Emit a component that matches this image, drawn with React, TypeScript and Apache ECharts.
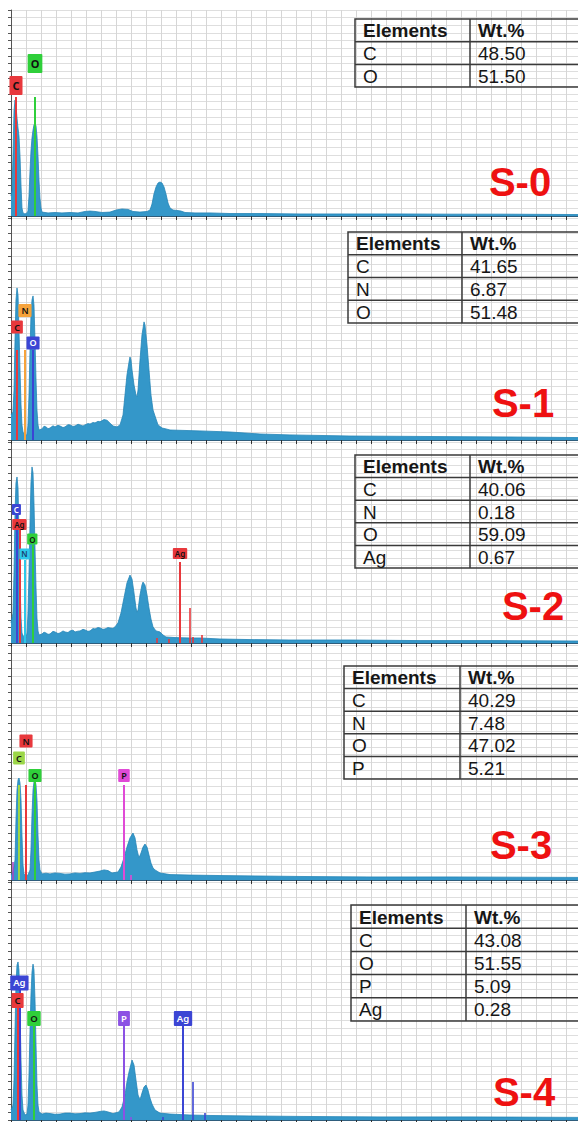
import React, { useEffect, useRef } from "react";
import * as echarts from "echarts";

// ---------- axis range (keV) ----------
const X_MAX = 9.45;
const X_STEP = 0.25;

// ---------- sample names ----------
const sampleNames = ["S-0", "S-1", "S-2", "S-3", "S-4"];

// ---------- spectra: [energy keV, counts % of full scale] ----------
const s0Spectrum: [number, number][] = [
  [0, 9.7], [0.017, 12.6], [0.033, 29.1], [0.05, 51], [0.067, 56.3], [0.083, 53.4], [0.1, 47.6], [0.117, 42.7],
  [0.133, 38.8], [0.15, 29.1], [0.167, 14.6], [0.183, 3.9], [0.2, 1.5], [0.233, 1], [0.267, 1.5], [0.283, 2.4],
  [0.3, 9.7], [0.317, 21.8], [0.333, 31.6], [0.35, 37.9], [0.367, 41.7], [0.383, 44.2], [0.4, 45.1], [0.417, 43.7],
  [0.433, 38.8], [0.45, 29.1], [0.467, 17], [0.483, 8.7], [0.5, 3.9], [0.517, 1.9], [0.617, 1.5], [0.733, 1.7],
  [0.85, 1.5], [0.983, 1.7], [1.117, 1.5], [1.233, 2.2], [1.317, 2.4], [1.4, 2.2], [1.517, 1.7], [1.65, 1.9],
  [1.75, 2.9], [1.85, 3.4], [1.95, 3.2], [2.033, 2.2], [2.15, 1.9], [2.267, 2.2], [2.317, 2.9], [2.35, 5.8],
  [2.383, 10.7], [2.417, 14.1], [2.45, 16], [2.483, 16.5], [2.517, 16], [2.55, 14.1], [2.583, 10.7], [2.617, 6.3],
  [2.65, 3.9], [2.7, 2.9], [2.767, 2.7], [2.833, 2.4], [2.9, 1.7], [3.067, 1.5], [3.317, 1.5], [3.65, 1.2],
  [4.15, 1.2], [4.817, 1], [5.65, 1], [6.483, 1], [7.317, 0.9], [8.15, 0.9], [9.45, 0.7],
];

const s1Spectrum: [number, number][] = [
  [0, 11.3], [0.033, 12.6], [0.05, 22.5], [0.067, 45], [0.083, 63.1], [0.1, 68.5], [0.117, 65.3], [0.133, 49.5],
  [0.15, 31.5], [0.167, 15.8], [0.183, 6.8], [0.2, 3.6], [0.217, 2.3], [0.25, 1.8], [0.267, 2.7], [0.283, 6.8],
  [0.3, 20.3], [0.317, 40.5], [0.333, 56.3], [0.35, 63.1], [0.367, 64.9], [0.383, 60.8], [0.4, 45], [0.417, 27],
  [0.433, 13.5], [0.45, 6.8], [0.467, 4.5], [0.517, 5], [0.55, 6.2], [0.583, 5.9], [0.617, 5.1], [0.65, 5.4],
  [0.7, 6.4], [0.733, 5.9], [0.783, 6.6], [0.817, 6.3], [0.867, 5.6], [0.9, 5.9], [0.95, 6.9], [0.983, 6.8],
  [1.033, 6.1], [1.067, 6.3], [1.117, 7.1], [1.15, 6.8], [1.2, 6.3], [1.233, 6.8], [1.283, 7.4], [1.317, 7.2],
  [1.367, 7.9], [1.4, 7.7], [1.45, 8.4], [1.483, 8.2], [1.55, 9.2], [1.6, 8.9], [1.65, 7.6], [1.7, 6.3],
  [1.767, 5.9], [1.817, 6.8], [1.867, 11.3], [1.9, 20.3], [1.933, 29.3], [1.967, 35.1], [1.983, 37.4], [2.0, 36],
  [2.017, 31.5], [2.05, 24.8], [2.083, 20.3], [2.1, 19.4], [2.117, 22.5], [2.15, 36], [2.183, 47.3], [2.217, 53.2],
  [2.233, 51.8], [2.267, 42.8], [2.3, 31.5], [2.333, 20.3], [2.367, 13.5], [2.4, 10.8], [2.45, 6.8], [2.517, 5.4],
  [2.583, 5], [2.65, 4.5], [2.9, 4.3], [3.15, 4.1], [3.65, 3.6], [4.15, 2.7], [4.65, 2.3], [5.65, 1.8],
  [6.817, 1.6], [8.15, 1.4], [9.45, 1.1],
];

const s2Spectrum: [number, number][] = [
  [0, 10], [0.033, 14.9], [0.05, 34.8], [0.067, 64.7], [0.083, 79.6], [0.1, 82.6], [0.117, 77.1], [0.133, 54.7],
  [0.15, 29.9], [0.167, 12.4], [0.183, 5], [0.217, 2.5], [0.25, 2.5], [0.267, 5], [0.283, 14.9], [0.3, 34.8],
  [0.317, 59.7], [0.333, 79.6], [0.35, 87.6], [0.367, 84.6], [0.383, 69.7], [0.4, 47.3], [0.417, 27.4],
  [0.433, 12.4], [0.45, 6], [0.467, 4], [0.517, 4.5], [0.55, 5.4], [0.583, 5], [0.617, 4.3], [0.65, 4.5],
  [0.7, 5.8], [0.733, 5.5], [0.783, 4.7], [0.817, 5], [0.867, 6], [0.9, 5.5], [0.95, 5.2], [0.983, 6],
  [1.033, 6.4], [1.067, 5.5], [1.117, 5.9], [1.15, 6], [1.2, 6.8], [1.233, 6.5], [1.283, 5.8], [1.317, 6],
  [1.367, 7.2], [1.4, 7], [1.45, 7.7], [1.483, 7.5], [1.533, 6.8], [1.567, 7], [1.617, 7.7], [1.65, 7.5],
  [1.7, 7.3], [1.733, 8], [1.783, 10], [1.833, 14.9], [1.883, 22.4], [1.933, 29.9], [1.983, 33.8], [2.017, 31.8],
  [2.05, 24.9], [2.083, 17.4], [2.1, 15.4], [2.117, 16.4], [2.15, 23.9], [2.183, 28.9], [2.2, 30.3], [2.233, 28.9],
  [2.267, 23.9], [2.3, 17.4], [2.333, 11.9], [2.367, 8], [2.417, 6], [2.483, 5.5], [2.533, 4], [2.583, 3],
  [2.733, 2.7], [2.983, 2.5], [3.15, 2.5], [3.483, 2], [3.983, 1.7], [4.65, 1.5], [5.65, 1.5], [6.817, 1.2],
  [8.15, 1.2], [9.45, 1],
];

const s3Spectrum: [number, number][] = [
  [0, 2.1], [0.033, 3.4], [0.067, 8.5], [0.083, 25.5], [0.1, 38.3], [0.117, 42.6], [0.133, 43.4], [0.15, 41.3],
  [0.167, 34], [0.183, 19.1], [0.2, 6.4], [0.217, 2.6], [0.25, 1.7], [0.283, 2.1], [0.317, 4.3], [0.333, 12.8],
  [0.35, 27.7], [0.367, 38.3], [0.383, 41.7], [0.4, 42.6], [0.417, 40.4], [0.433, 34], [0.45, 19.1], [0.467, 8.5],
  [0.483, 4.3], [0.517, 2.6], [0.583, 2.9], [0.65, 2.6], [0.733, 3], [0.817, 2.8], [0.9, 2.5], [0.983, 2.6],
  [1.067, 3], [1.15, 2.8], [1.233, 3.1], [1.317, 3], [1.4, 3.4], [1.483, 3.8], [1.55, 4.3], [1.617, 4],
  [1.683, 3], [1.783, 3.4], [1.833, 5.5], [1.883, 9.4], [1.933, 14], [1.983, 17.9], [2.033, 20], [2.067, 17.9],
  [2.1, 12.8], [2.133, 9.4], [2.167, 11.5], [2.2, 14], [2.233, 15.3], [2.267, 14], [2.3, 10.6], [2.333, 7.2],
  [2.367, 5.1], [2.4, 4.3], [2.483, 3], [2.65, 2.3], [2.983, 2.1], [3.483, 1.9], [4.15, 1.7], [4.817, 1.5],
  [5.983, 1.3], [7.317, 1.3], [9.45, 1.1],
];

const s4Spectrum: [number, number][] = [
  [0, 4.2], [0.033, 6.3], [0.05, 16.8], [0.067, 37.8], [0.083, 56.7], [0.1, 65.1], [0.117, 66.4], [0.133, 63],
  [0.15, 46.2], [0.167, 25.2], [0.183, 10.5], [0.2, 4.2], [0.233, 2.1], [0.267, 2.5], [0.283, 6.3], [0.3, 18.9],
  [0.317, 37.8], [0.333, 52.5], [0.35, 62.2], [0.367, 65.5], [0.383, 63], [0.4, 50.4], [0.417, 31.5], [0.433, 14.7],
  [0.45, 6.3], [0.467, 3.4], [0.517, 2.5], [0.583, 2.9], [0.65, 2.7], [0.733, 2.4], [0.817, 2.5], [0.9, 2.9],
  [0.983, 2.9], [1.067, 2.6], [1.15, 2.7], [1.233, 3], [1.317, 2.9], [1.4, 3.2], [1.483, 3.6], [1.55, 3.8],
  [1.617, 3.4], [1.7, 2.7], [1.8, 3.4], [1.85, 5.5], [1.9, 10.5], [1.933, 16], [1.967, 20.2], [2.017, 25.2],
  [2.05, 23.1], [2.083, 16.8], [2.117, 10.5], [2.15, 8.4], [2.183, 11.3], [2.217, 13.9], [2.25, 14.7],
  [2.283, 12.6], [2.317, 9.2], [2.35, 6.7], [2.4, 4.2], [2.483, 2.9], [2.65, 2.5], [2.983, 2.1], [3.317, 1.9],
  [3.983, 1.7], [4.817, 1.5], [6.15, 1.3], [7.65, 1.3], [9.45, 1.1],
];

// ---------- element markers: energy, line top %, label centre %, colour ----------
const RED = "#e8383c";
const GREEN = "#2fcf3a";
const ORANGE = "#f6a33b";
const BLUE = "#3b45d4";
const CYAN = "#2cc8ea";
const LIME = "#9bd648";
const MAGENTA = "#e04ad6";
const PURPLE = "#8c52e4";
const VIOLET = "#a547c4";

type Marker = { el?: string; x: number; top: number; label?: number; color: string; text?: string };

const s0Markers: Marker[] = [
  { el: "C", x: 0.083, top: 57.8, label: 63.3, color: RED },
  { el: "O", x: 0.4, top: 57.8, label: 74, color: GREEN },
];
const s1Markers: Marker[] = [
  { el: "C", x: 0.1, top: 40.5, label: 50.9, color: RED },
  { el: "N", x: 0.233, top: 40.5, label: 58.3, color: ORANGE },
  { el: "O", x: 0.367, top: 40.5, label: 43.7, color: BLUE, text: "#ffffff" },
];
const s2Markers: Marker[] = [
  { el: "C", x: 0.09, top: 63.7, label: 66.4, color: BLUE, text: "#ffffff" },
  { el: "Ag", x: 0.14, top: 56.2, label: 59, color: RED },
  { el: "N", x: 0.225, top: 41.3, label: 44.3, color: CYAN, text: "#1b3d6e" },
  { el: "O", x: 0.355, top: 48.8, label: 51.7, color: GREEN },
  { el: "Ag", x: 2.817, top: 40.3, label: 44.5, color: RED },
  { x: 2.983, top: 17.4, color: RED },
  { x: 3.183, top: 4, color: RED },
  { x: 2.433, top: 2.5, color: RED },
  { x: 2.633, top: 2, color: RED },
  { x: 3.033, top: 3, color: RED },
];
const s3Markers: Marker[] = [
  { x: 0.033, top: 7.7, color: VIOLET },
  { el: "C", x: 0.133, top: 40.4, label: 51.9, color: LIME },
  { el: "N", x: 0.25, top: 40.4, label: 59.1, color: RED },
  { el: "O", x: 0.4, top: 41.7, label: 44.5, color: GREEN },
  { el: "P", x: 1.883, top: 40.4, label: 44.5, color: MAGENTA },
  { x: 2.0, top: 2.1, color: MAGENTA },
];
const s4Markers: Marker[] = [
  { el: "C", x: 0.11, top: 47.5, label: 50.2, color: RED },
  { el: "Ag", x: 0.14, top: 54.6, label: 57.6, color: BLUE, text: "#ffffff" },
  { el: "O", x: 0.383, top: 39.5, label: 42.6, color: GREEN },
  { el: "P", x: 1.883, top: 39.5, label: 42.6, color: PURPLE, text: "#ffffff" },
  { el: "Ag", x: 2.867, top: 39.5, label: 42.6, color: BLUE, text: "#ffffff" },
  { x: 3.033, top: 16, color: BLUE },
  { x: 3.233, top: 2.9, color: BLUE },
  { x: 2.0, top: 1.3, color: PURPLE },
  { x: 2.533, top: 1.3, color: BLUE },
];

// ---------- composition tables ----------
const s0Elements = ["C", "O"];
const s0Wt = ["48.50", "51.50"];
const s1Elements = ["C", "N", "O"];
const s1Wt = ["41.65", "6.87", "51.48"];
const s2Elements = ["C", "N", "O", "Ag"];
const s2Wt = ["40.06", "0.18", "59.09", "0.67"];
const s3Elements = ["C", "N", "O", "P"];
const s3Wt = ["40.29", "7.48", "47.02", "5.21"];
const s4Elements = ["C", "O", "P", "Ag"];
const s4Wt = ["43.08", "51.55", "5.09", "0.28"];

const spectra = [s0Spectrum, s1Spectrum, s2Spectrum, s3Spectrum, s4Spectrum];
const markers = [s0Markers, s1Markers, s2Markers, s3Markers, s4Markers];
const tableElements = [s0Elements, s1Elements, s2Elements, s3Elements, s4Elements];
const tableWt = [s0Wt, s1Wt, s2Wt, s3Wt, s4Wt];

// ---------- layout (pixels) ----------
const PANELS = [
  { top: 10, height: 206, rows: 27, font: 11, lh: 13, pad: [3, 3], bold: true },
  { top: 218, height: 222, rows: 29, font: 9, lh: 9, pad: [2, 3], bold: false },
  { top: 442, height: 201, rows: 26, font: 8, lh: 8, pad: [1.5, 2], bold: false },
  { top: 645, height: 235, rows: 30, font: 9, lh: 9, pad: [2, 3], bold: false },
  { top: 882, height: 238, rows: 31, font: 9.5, lh: 10, pad: [2.5, 3], bold: false },
];
const TABLES = [
  { left: 355, top: 19, split: 470, rowH: 22.7 },
  { left: 348, top: 232, split: 462, rowH: 22.75 },
  { left: 355, top: 455, split: 470, rowH: 22.6 },
  { left: 344, top: 666, split: 460, rowH: 22.6 },
  { left: 351, top: 905, split: 466, rowH: 23.2 },
];
const TAGS = [
  { x: 520, y: 182 },
  { x: 523, y: 403 },
  { x: 533, y: 606 },
  { x: 521, y: 845 },
  { x: 524, y: 1092 },
];

const TABLE_FONT = "'Liberation Sans', Arial, sans-serif";

function buildOption() {
  const grid: any[] = [];
  const xAxis: any[] = [];
  const yAxis: any[] = [];
  const series: any[] = [];
  const graphic: any[] = [];

  PANELS.forEach((p, i) => {
    grid.push({ left: 11, right: 0, top: p.top, height: p.height, containLabel: false, outerBoundsMode: "none" });
    xAxis.push({
      type: "value",
      gridIndex: i,
      min: 0,
      max: X_MAX,
      interval: X_STEP,
      axisLabel: { show: false },
      axisLine: { show: true, onZero: false, lineStyle: { color: "#2f5d7c", width: 1.2 } },
      axisTick: { show: true, length: 4, inside: false, lineStyle: { color: "#333333" } },
      splitLine: { show: true, lineStyle: { color: "#d6d6d6", width: 1 } },
    });
    yAxis.push({
      type: "value",
      gridIndex: i,
      min: 0,
      max: 100,
      interval: 100 / p.rows,
      axisLabel: { show: false },
      axisLine: { show: true, lineStyle: { color: "#555555", width: 1 } },
      axisTick: { show: true, length: 3, lineStyle: { color: "#555555" } },
      splitLine: { show: true, lineStyle: { color: "#dedede", width: 1 } },
    });

    series.push({
      type: "line",
      name: sampleNames[i],
      xAxisIndex: i,
      yAxisIndex: i,
      data: spectra[i],
      showSymbol: false,
      symbol: "none",
      smooth: false,
      lineStyle: { color: "#2585b8", width: 0.8 },
      areaStyle: { color: "#3497c9", opacity: 1 },
      z: 2,
      silent: true,
      markLine: {
        silent: true,
        symbol: ["none", "none"],
        label: { show: false },
        lineStyle: { type: "solid", width: 2, opacity: 1 },
        animation: false,
        data: markers[i].map((m) => [
          { coord: [m.x, 0], lineStyle: { color: m.color, type: "solid", width: m.el ? 2 : 1.6, opacity: 1 } },
          { coord: [m.x, m.top] },
        ]),
      },
    });

    series.push({
      type: "scatter",
      xAxisIndex: i,
      yAxisIndex: i,
      symbolSize: 0,
      z: 10,
      silent: true,
      itemStyle: { opacity: 1 },
      data: markers[i]
        .filter((m) => m.el && m.label != null)
        .map((m) => ({
          value: [m.x, m.label],
          name: m.el,
          label: { backgroundColor: m.color, color: m.text || "#111111" },
        })),
      label: {
        show: true,
        position: "inside",
        formatter: "{b}",
        fontSize: p.font,
        lineHeight: p.lh,
        padding: p.pad,
        opacity: 1,
        fontFamily: "'Noto Sans', 'DejaVu Sans', sans-serif",
        fontWeight: p.bold ? "bold" : 600,
        borderRadius: 1,
      },
    });

    // composition table
    const t = TABLES[i];
    const els = tableElements[i];
    const wts = tableWt[i];
    const nRows = els.length + 1;
    const right = 600;
    const stroke = { stroke: "#3a3a3a", lineWidth: 1.5 };
    graphic.push({
      type: "rect",
      silent: true,
      z: 20,
      shape: { x: t.left, y: t.top, width: right - t.left, height: t.rowH * nRows },
      style: { fill: "none", ...stroke },
    });
    for (let r = 1; r < nRows; r++) {
      graphic.push({
        type: "line",
        silent: true,
        z: 20,
        shape: { x1: t.left, y1: t.top + t.rowH * r, x2: right, y2: t.top + t.rowH * r },
        style: { ...stroke },
      });
    }
    graphic.push({
      type: "line",
      silent: true,
      z: 20,
      shape: { x1: t.split, y1: t.top, x2: t.split, y2: t.top + t.rowH * nRows },
      style: { ...stroke },
    });
    const cells: [string, string][] = [["Elements", "Wt.%"], ...els.map((e, k) => [e, wts[k]] as [string, string])];
    cells.forEach((row, r) => {
      const cy = t.top + t.rowH * (r + 0.5) + 0.5;
      [t.left + 8, t.split + 8].forEach((cx, c) => {
        graphic.push({
          type: "text",
          silent: true,
          z: 21,
          x: cx,
          y: cy,
          style: {
            text: row[c],
            fontSize: 19,
            fontWeight: r === 0 ? "bold" : "normal",
            fontFamily: TABLE_FONT,
            fill: "#161616",
            align: "left",
            verticalAlign: "middle",
          },
        });
      });
    });

    // sample tag
    graphic.push({
      type: "text",
      silent: true,
      z: 21,
      x: TAGS[i].x,
      y: TAGS[i].y,
      style: {
        text: sampleNames[i],
        fontSize: 40,
        fontWeight: "bold",
        fontFamily: TABLE_FONT,
        fill: "#ee1111",
        align: "center",
        verticalAlign: "middle",
      },
    });
  });

  return {
    animation: false,
    backgroundColor: "#ffffff",
    grid,
    xAxis,
    yAxis,
    series,
    graphic: { elements: graphic },
  };
}

export default function App() {
  const ref = useRef<HTMLDivElement>(null);
  useEffect(() => {
    if (!ref.current) return;
    const chart = echarts.init(ref.current, null, { renderer: "svg", width: 578, height: 1122 });
    chart.setOption(buildOption() as any);
    return () => chart.dispose();
  }, []);
  return (
    <div
      ref={ref}
      style={{ position: "absolute", left: 0, top: 0, width: 578, height: 1122, background: "#ffffff" }}
    />
  );
}
